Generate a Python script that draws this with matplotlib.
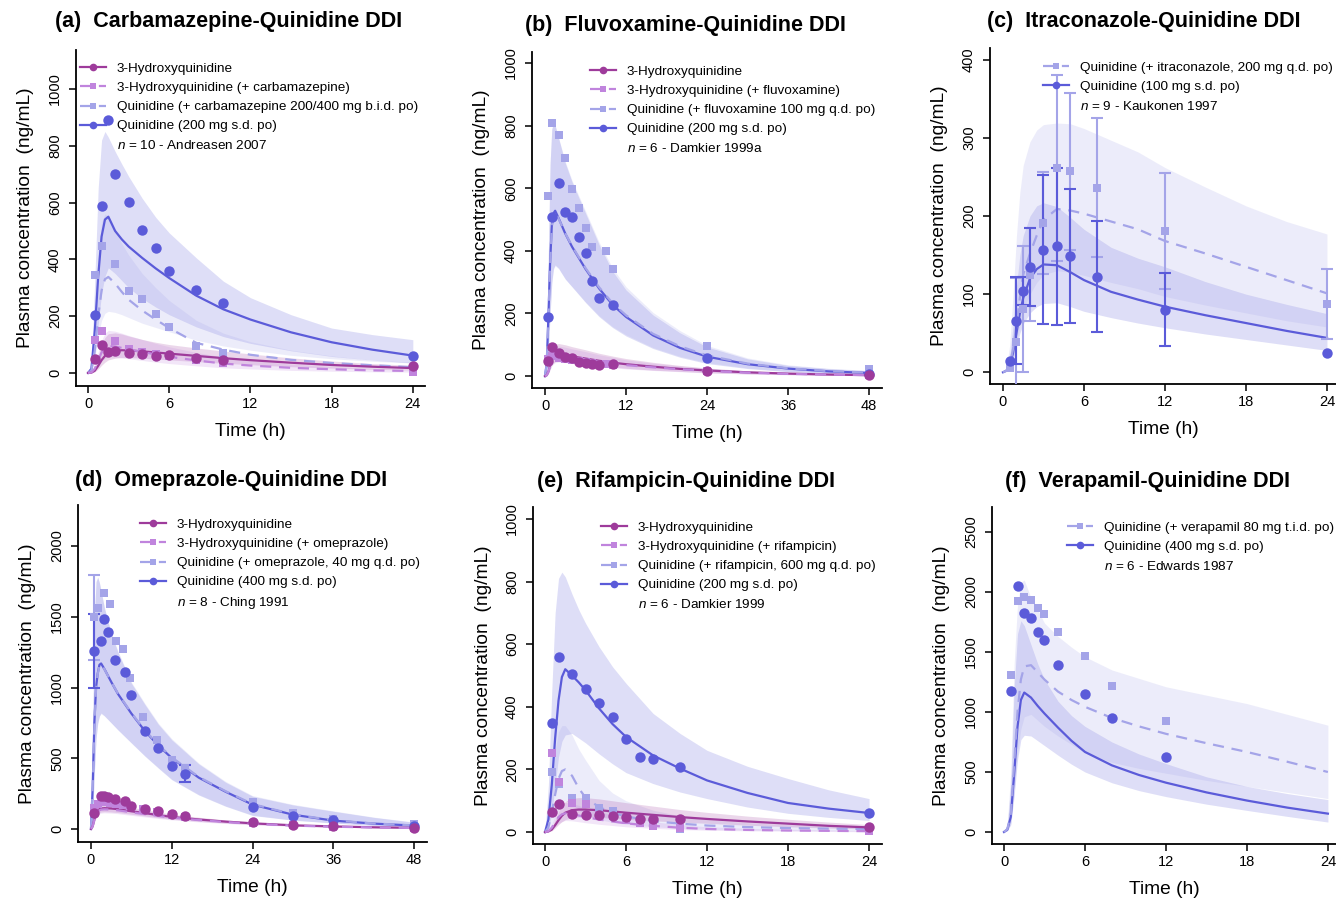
import numpy as np
import matplotlib
matplotlib.use("Agg")
import matplotlib.pyplot as plt
from matplotlib.lines import Line2D

plt.rcParams['font.family'] = ['Liberation Sans', 'DejaVu Sans']
plt.rcParams['mathtext.fontset'] = 'custom'
plt.rcParams['mathtext.it'] = 'Liberation Sans:italic'
plt.rcParams['mathtext.rm'] = 'Liberation Sans'

# ---- simulation time grids (h)
t24 = [0, 0.25, 0.5, 0.75, 1, 1.25, 1.5, 2, 2.5, 3, 4, 5, 6, 8, 10, 12, 15, 18, 21, 24]
t48 = [0, 0.25, 0.5, 0.75, 1, 1.25, 1.5, 2, 3, 4, 6, 8, 10, 12, 16, 20, 24, 30, 36, 42, 48]

# ---- (a) carbamazepine
a_q_med = [0, 15, 150, 340, 480, 540, 550, 500, 470, 445, 405, 368, 334, 272, 224, 188, 143, 108, 82, 61]
a_q_lo = [0, 5, 60, 170, 280, 340, 370, 350, 325, 300, 262, 232, 205, 162, 128, 104, 78, 58, 45, 35]
a_q_hi = [0, 40, 330, 650, 820, 850, 830, 780, 735, 692, 615, 548, 493, 405, 323, 265, 205, 158, 135, 117]
a_qx_med = [0, 8, 80, 200, 290, 330, 338, 315, 285, 258, 220, 188, 158, 106, 82, 64, 46, 35, 27, 20]
a_qx_lo = [0, 3, 50, 130, 185, 210, 217, 213, 205, 195, 175, 160, 145, 115, 95, 80, 62, 50, 41, 35]
a_qx_hi = [0, 20, 200, 420, 530, 560, 550, 500, 455, 415, 350, 300, 255, 185, 140, 110, 80, 60, 45, 38]
a_m_med = [0, 1, 8, 25, 45, 60, 70, 78, 80, 79, 76, 72, 68, 60, 52, 45, 36, 28, 22, 17]
a_m_lo = [0, 0, 4, 14, 27, 38, 46, 52, 54, 54, 52, 49, 46, 40, 34, 29, 22, 17, 13, 10]
a_m_hi = [0, 3, 20, 60, 100, 125, 138, 141, 137, 130, 118, 108, 100, 88, 77, 67, 53, 42, 33, 27]
a_mx_med = [0, 2, 15, 45, 72, 88, 95, 93, 88, 83, 74, 65, 57, 44, 33, 26, 18, 13, 9, 7]
a_mx_lo = [0, 1, 8, 25, 42, 52, 57, 56, 53, 50, 44, 38, 33, 25, 18, 14, 9, 6, 4, 3]
a_mx_hi = [0, 4, 28, 75, 115, 140, 150, 147, 140, 132, 118, 104, 92, 72, 56, 44, 31, 22, 16, 12]
a_obs_t = [0.5, 1, 1.5, 2, 3, 4, 5, 6, 8, 10, 24]
a_q_obs = [205, 588, 890, 700, 602, 502, 440, 359, 291, 246, 59]
a_m_obs = [49, 100, 73, 76, 70, 68, 61, 64, 53, 47, 23]
a_x_obs_t = [0.5, 1, 2, 3, 4, 5, 6, 8, 10, 24]
a_qx_obs = [346, 446, 385, 288, 262, 207, 163, 96, 70, 8]
a_mx_obs = [115, 146, 112, 86, 75, 65, 58, 45, 35, 5]

# ---- (b) fluvoxamine
b_q_med = [0, 40, 190, 360, 480, 520, 528, 505, 455, 413, 342, 280, 228, 189, 130, 90, 62, 38, 24, 15, 10]
b_q_lo = [0, 15, 90, 200, 300, 345, 355, 345, 310, 285, 235, 190, 155, 128, 88, 60, 40, 24, 14, 9, 6]
b_q_hi = [0, 90, 400, 680, 790, 810, 800, 760, 680, 620, 520, 420, 335, 275, 195, 138, 93, 55, 34, 24, 17]
b_qx_med = [0, 38, 185, 355, 475, 515, 525, 503, 456, 415, 345, 284, 233, 194, 135, 95, 66, 40, 25, 16, 11]
b_qx_lo = [0, 14, 85, 195, 295, 340, 352, 343, 310, 286, 237, 193, 158, 132, 91, 63, 43, 26, 15, 10, 7]
b_qx_hi = [0, 85, 395, 675, 785, 808, 800, 762, 685, 625, 527, 428, 345, 285, 203, 145, 98, 58, 36, 25, 18]
b_m_med = [0, 3, 15, 35, 52, 62, 68, 70, 67, 63, 56, 49, 43, 38, 30, 23, 18, 12, 8, 5, 3]
b_m_lo = [0, 1, 8, 22, 35, 42, 46, 48, 46, 43, 38, 33, 29, 25, 19, 15, 11, 7, 5, 3, 2]
b_m_hi = [0, 6, 28, 60, 82, 95, 102, 104, 100, 94, 84, 73, 64, 56, 44, 34, 26, 17, 11, 7, 5]
b_mx_med = [0, 3, 14, 32, 48, 57, 62, 64, 62, 58, 52, 46, 40, 35, 28, 22, 17, 11, 7, 5, 3]
b_mx_lo = [0, 1, 7, 20, 32, 39, 43, 45, 43, 40, 36, 31, 27, 23, 18, 14, 10, 7, 4, 3, 2]
b_mx_hi = [0, 6, 26, 55, 76, 88, 94, 96, 92, 87, 78, 68, 60, 52, 41, 32, 25, 16, 10, 7, 5]
b_q_obs_t = [0.5, 1, 2, 3, 4, 5, 6, 7, 8, 10, 24, 48]
b_q_obs = [189, 509, 616, 523, 508, 443, 392, 304, 248, 228, 59, 7]
b_m_obs = [47, 93, 74, 60, 57, 45, 42, 40, 37, 38, 17, 3]
b_x_obs_t = [0.5, 1, 2, 3, 4, 5, 6, 7, 9, 10, 24, 48]
b_qx_obs = [576, 809, 771, 697, 598, 538, 473, 413, 399, 342, 95, 23]
b_mx_obs = [55, 65, 58, 55, 52, 48, 45, 42, 38, 35, 15, 2]

# ---- (c) itraconazole
c_q_med = [0, 2, 8, 25, 50, 75, 95, 120, 132, 138, 137, 128, 118, 103, 93, 84, 73, 63, 53, 44]
c_q_lo = [0, 1, 4, 15, 33, 50, 62, 76, 84, 88, 89, 84, 78, 70, 63, 57, 49, 42, 35, 28]
c_q_hi = [0, 4, 20, 60, 110, 150, 175, 200, 213, 217, 212, 198, 183, 160, 146, 135, 116, 100, 87, 75]
c_qx_med = [0, 2, 10, 30, 60, 95, 125, 152, 175, 195, 209, 207, 203, 193, 183, 168, 152, 135, 118, 101]
c_qx_lo = [0, 1, 5, 18, 38, 60, 80, 100, 115, 125, 130, 128, 124, 115, 107, 97, 86, 76, 66, 58]
c_qx_hi = [0, 5, 35, 100, 175, 230, 265, 295, 310, 317, 319, 318, 312, 297, 282, 262, 237, 213, 193, 177]
c_obs_t = [0.5, 1, 1.5, 2, 3, 4, 5, 7, 12, 24]
c_q_obs = [14, 66, 104, 135, 157, 161, 149, 122, 80, 25]
c_q_sd = [0, 56, 18, 50, 95, 100, 86, 71, 47, 0]
c_qx_obs = [6, 39, 81, 125, 191, 261, 257, 236, 181, 87]
c_qx_sd = [0, 82, 81, 60, 65, 119, 100, 89, 74, 45]

# ---- (d) omeprazole
d_q_med = [0, 300, 750, 1000, 1100, 1160, 1170, 1130, 1040, 955, 816, 693, 590, 501, 363, 263, 172, 101, 59, 38, 24]
d_q_lo = [0, 100, 400, 640, 750, 800, 820, 800, 750, 700, 607, 515, 430, 348, 240, 160, 95, 62, 42, 25, 14]
d_q_hi = [0, 700, 1500, 1750, 1780, 1740, 1680, 1560, 1380, 1250, 1030, 880, 740, 630, 460, 330, 231, 170, 125, 82, 47]
d_qx_med = [0, 290, 740, 990, 1095, 1155, 1165, 1128, 1040, 958, 820, 698, 596, 506, 368, 267, 176, 104, 61, 39, 25]
d_qx_lo = [0, 95, 395, 635, 745, 795, 815, 798, 750, 702, 610, 518, 434, 352, 244, 163, 98, 64, 43, 26, 15]
d_qx_hi = [0, 690, 1490, 1745, 1778, 1742, 1685, 1565, 1388, 1258, 1038, 888, 748, 638, 466, 336, 236, 174, 128, 84, 49]
d_m_med = [0, 20, 70, 110, 130, 140, 145, 147, 145, 140, 125, 112, 98, 85, 67, 52, 40, 26, 18, 12, 8]
d_m_lo = [0, 12, 50, 85, 105, 115, 120, 122, 120, 116, 104, 92, 80, 69, 54, 42, 32, 21, 14, 9, 6]
d_m_hi = [0, 30, 95, 140, 160, 170, 175, 177, 175, 170, 153, 137, 120, 105, 83, 64, 49, 32, 22, 15, 10]
d_mx_med = [0, 18, 65, 102, 122, 132, 137, 139, 137, 132, 118, 105, 92, 80, 63, 49, 37, 24, 16, 11, 7]
d_mx_lo = [0, 10, 45, 78, 97, 107, 112, 114, 112, 108, 96, 85, 74, 64, 50, 39, 29, 19, 13, 8, 5]
d_mx_hi = [0, 28, 90, 132, 152, 162, 166, 168, 166, 161, 145, 129, 113, 99, 78, 60, 46, 30, 20, 14, 9]
d_q_obs_t = [0.5, 1.5, 2, 2.5, 3.5, 5, 6, 8, 10, 12, 14, 24, 30, 36, 48]
d_q_obs = [1259, 1329, 1485, 1395, 1195, 1113, 946, 694, 572, 447, 391, 153, 94, 66, 24]
d_q_sd = [260, 0, 0, 0, 0, 0, 0, 0, 0, 0, 62, 0, 0, 0, 0]
d_m_obs = [113, 231, 231, 226, 212, 195, 165, 141, 129, 108, 89, 47, 31, 19, 7]
d_x_obs_t = [0.5, 1, 2, 2.75, 3.75, 4.75, 5.75, 7.75, 9.75, 12, 14, 24, 30, 36, 48]
d_qx_obs = [1496, 1565, 1668, 1593, 1329, 1275, 1064, 795, 631, 485, 431, 188, 113, 71, 35]
d_qx_sd = [300, 0, 0, 0, 0, 0, 0, 0, 0, 0, 0, 0, 0, 0, 0]
d_mx_obs = [150, 180, 190, 185, 180, 170, 160, 140, 120, 100, 85, 40, 25, 15, 5]

# ---- (e) rifampicin
e_q_med = [0, 40, 150, 300, 420, 495, 520, 500, 478, 453, 395, 345, 304, 245, 203, 165, 125, 93, 75, 61]
e_q_lo = [0, 10, 60, 150, 240, 290, 310, 315, 300, 285, 250, 218, 190, 155, 128, 107, 80, 60, 47, 37]
e_q_hi = [0, 150, 450, 700, 810, 830, 815, 760, 710, 667, 592, 528, 475, 379, 315, 261, 210, 171, 135, 107]
e_qx_med = [0, 15, 60, 120, 170, 195, 200, 180, 140, 110, 80, 62, 50, 35, 27, 21, 16, 13, 11, 10]
e_qx_lo = [0, 5, 20, 45, 70, 90, 100, 90, 70, 55, 40, 31, 25, 17, 12, 9, 6, 5, 4, 3]
e_qx_hi = [0, 40, 150, 260, 320, 340, 340, 310, 265, 230, 165, 125, 100, 70, 52, 40, 30, 24, 19, 15]
e_m_med = [0, 2, 8, 22, 38, 52, 62, 70, 72, 72, 70, 66, 62, 55, 48, 42, 34, 27, 20, 15]
e_m_lo = [0, 1, 4, 13, 24, 33, 40, 46, 48, 48, 47, 44, 41, 36, 32, 28, 22, 17, 13, 10]
e_m_hi = [0, 4, 16, 40, 65, 85, 98, 108, 110, 110, 106, 100, 94, 83, 72, 63, 51, 41, 32, 24]
e_mx_med = [0, 3, 14, 32, 48, 57, 60, 58, 53, 48, 40, 34, 28, 20, 14, 10, 7, 5, 4, 3]
e_mx_lo = [0, 1, 7, 18, 28, 34, 37, 36, 33, 30, 25, 21, 17, 12, 8, 6, 4, 3, 2, 1]
e_mx_hi = [0, 6, 24, 52, 76, 90, 95, 92, 85, 77, 64, 55, 46, 33, 24, 17, 12, 9, 7, 5]
e_obs_t = [0.5, 1, 2, 3, 4, 5, 6, 7, 8, 10, 24]
e_q_obs = [347, 559, 505, 458, 411, 366, 296, 240, 233, 208, 62]
e_qx_obs = [191, 155, 110, 110, 78, 66, 43, 35, 21, 11, 3]
e_m_obs = [64, 89, 59, 53, 53, 51, 48, 43, 43, 41, 16]
e_mx_obs = [252, 160, 93, 91, 55, 50, 40, 30, 20, 12, 3]

# ---- (f) verapamil
f_q_med = [0, 20, 125, 480, 876, 1100, 1162, 1120, 1050, 987, 870, 760, 667, 555, 475, 411, 330, 262, 203, 153]
f_q_lo = [0, 10, 60, 300, 600, 770, 806, 800, 760, 720, 640, 565, 500, 410, 345, 295, 232, 180, 130, 83]
f_q_hi = [0, 60, 400, 1200, 1650, 1760, 1720, 1560, 1400, 1270, 1090, 970, 880, 750, 650, 570, 460, 380, 320, 270]
f_qx_med = [0, 25, 150, 560, 1000, 1270, 1380, 1390, 1330, 1270, 1170, 1100, 1043, 950, 880, 818, 740, 667, 585, 500]
f_qx_lo = [0, 10, 70, 330, 650, 860, 960, 980, 930, 880, 800, 730, 660, 580, 530, 490, 430, 380, 330, 278]
f_qx_hi = [0, 80, 500, 1400, 1900, 2080, 2100, 1950, 1850, 1740, 1630, 1540, 1460, 1350, 1280, 1210, 1140, 1070, 980, 890]
f_obs_t = [0.5, 1, 1.5, 2, 2.5, 3, 4, 6, 8, 12]
f_q_obs = [1176, 2049, 1821, 1780, 1668, 1596, 1388, 1154, 948, 626]
f_qx_obs = [1307, 1927, 1960, 1933, 1869, 1816, 1668, 1466, 1215, 926]

# ---- styling
C_M = '#9E3B9B'
C_MX = '#C084DD'
C_QX = '#A4A4E8'
C_Q = '#5B5BD9'
DASH = (0, (5, 3.5))
STY = {
    'm': dict(color=C_M, ls='-', marker='o'),
    'mx': dict(color=C_MX, ls=DASH, marker='s'),
    'qx': dict(color=C_QX, ls=DASH, marker='s'),
    'q': dict(color=C_Q, ls='-', marker='o'),
}

W, H = 1336, 898
fig = plt.figure(figsize=(W / 100, H / 100), dpi=100)


def add_ax(box, xlim, ylim, xt, yt):
    l, t, r, b = box
    ax = fig.add_axes([l / W, 1 - b / H, (r - l) / W, (b - t) / H])
    ax.set_xlim(xlim)
    ax.set_ylim(ylim)
    for s in ('top', 'right'):
        ax.spines[s].set_visible(False)
    for s in ('left', 'bottom'):
        ax.spines[s].set_linewidth(1.3)
    ax.set_xticks(xt)
    ax.set_yticks(yt, [str(v) for v in yt], rotation=90, va='center')
    ax.tick_params(direction='out', length=5, width=1.1, labelsize=10.5)
    ax.tick_params(axis='x', pad=3.0)
    ax.tick_params(axis='y', pad=5.0)
    ax.set_xlabel('Time (h)', fontsize=13.8, va='center')
    ax.set_ylabel('Plasma concentration  (ng/mL)', fontsize=13.8, va='center')
    ax.xaxis.set_label_coords(0.5, -46 / (b - t))
    ax.yaxis.set_label_coords(-50 / (r - l), 0.5)
    return ax


def sim(ax, t, key, med, lo, hi):
    s = STY[key]
    ax.fill_between(t, lo, hi, color=s['color'], alpha=0.2, lw=0, zorder=1)
    ax.plot(t, med, color=s['color'], ls=s['ls'], lw=1.6, zorder=2)


def obs(ax, t, c, key, sd=None):
    s = STY[key]
    if sd is not None:
        t_, c_, sd_ = np.array(t), np.array(c), np.array(sd)
        k = sd_ > 0
        ax.errorbar(t_[k], c_[k], yerr=sd_[k], fmt='none', ecolor=s['color'],
                    elinewidth=1.5, capsize=4.5, capthick=1.5, zorder=3)
    circ = s['marker'] == 'o'
    ax.plot(t, c, ls='none', marker=s['marker'], ms=7.5 if circ else 6,
            color=s['color'], mew=0, zorder=5 if circ else 4)


def legend(ax, keys, labels, pos):
    hs = []
    for k in keys:
        s = STY[k]
        hs.append(Line2D([], [], color=s['color'], ls=s['ls'], lw=1.6, marker=s['marker'],
                         ms=5.5 if s['marker'] == 'o' else 5, mew=0))
    hs.append(Line2D([], [], ls='none'))
    ax.legend(hs, labels, loc='upper left', bbox_to_anchor=(pos[0] / W, 1 - pos[1] / H),
              bbox_transform=fig.transFigure, frameon=False, fontsize=9.7,
              handlelength=1.93, handletextpad=0.8, labelspacing=0.5,
              borderpad=0, borderaxespad=0, numpoints=1)


def title(x, y, s):
    fig.text(x / W, 1 - y / H, s, fontsize=15.5, fontweight='bold', ha='left', va='center')


# (a)
ax = add_ax((76, 50, 425, 386), (-0.89, 24.9), (-46, 1137), [0, 6, 12, 18, 24], [0, 200, 400, 600, 800, 1000])
sim(ax, t24, 'q', a_q_med, a_q_lo, a_q_hi)
sim(ax, t24, 'qx', a_qx_med, a_qx_lo, a_qx_hi)
sim(ax, t24, 'm', a_m_med, a_m_lo, a_m_hi)
sim(ax, t24, 'mx', a_mx_med, a_mx_lo, a_mx_hi)
obs(ax, a_x_obs_t, a_qx_obs, 'qx')
obs(ax, a_obs_t, a_q_obs, 'q')
obs(ax, a_x_obs_t, a_mx_obs, 'mx')
obs(ax, a_obs_t, a_m_obs, 'm')
legend(ax, ['m', 'mx', 'qx', 'q'],
       ['3-Hydroxyquinidine', '3-Hydroxyquinidine (+ carbamazepine)',
        'Quinidine (+ carbamazepine 200/400 mg b.i.d. po)', 'Quinidine (200 mg s.d. po)',
        '$n$ = 10 - Andreasen 2007'], (80, 62.5))
title(55, 22, '(a)  Carbamazepine-Quinidine DDI')

# (b)
ax = add_ax((532, 52, 882, 388), (-1.93, 49.9), (-38, 1035), [0, 12, 24, 36, 48], [0, 200, 400, 600, 800, 1000])
sim(ax, t48, 'q', b_q_med, b_q_lo, b_q_hi)
sim(ax, t48, 'qx', b_qx_med, b_qx_lo, b_qx_hi)
sim(ax, t48, 'm', b_m_med, b_m_lo, b_m_hi)
sim(ax, t48, 'mx', b_mx_med, b_mx_lo, b_mx_hi)
obs(ax, b_x_obs_t, b_qx_obs, 'qx')
obs(ax, b_q_obs_t, b_q_obs, 'q')
obs(ax, b_x_obs_t, b_mx_obs, 'mx')
obs(ax, b_q_obs_t, b_m_obs, 'm')
legend(ax, ['m', 'mx', 'qx', 'q'],
       ['3-Hydroxyquinidine', '3-Hydroxyquinidine (+ fluvoxamine)',
        'Quinidine (+ fluvoxamine 100 mg q.d. po)', 'Quinidine (200 mg s.d. po)',
        '$n$ = 6 - Damkier 1999a'], (590, 65.5))
title(525, 25, '(b)  Fluvoxamine-Quinidine DDI')

# (c)
ax = add_ax((990, 48, 1336, 384), (-0.96, 24.67), (-15, 415), [0, 6, 12, 18, 24], [0, 100, 200, 300, 400])
sim(ax, t24, 'q', c_q_med, c_q_lo, c_q_hi)
sim(ax, t24, 'qx', c_qx_med, c_qx_lo, c_qx_hi)
obs(ax, c_obs_t, c_qx_obs, 'qx', c_qx_sd)
obs(ax, c_obs_t, c_q_obs, 'q', c_q_sd)
legend(ax, ['qx', 'q'],
       ['Quinidine (+ itraconazole, 200 mg q.d. po)', 'Quinidine (100 mg s.d. po)',
        '$n$ = 9 - Kaukonen 1997'], (1043, 61.5))
title(987, 22, '(c)  Itraconazole-Quinidine DDI')

# (d)
ax = add_ax((78, 505, 427, 842), (-1.93, 49.9), (-92, 2290), [0, 12, 24, 36, 48], [0, 500, 1000, 1500, 2000])
sim(ax, t48, 'q', d_q_med, d_q_lo, d_q_hi)
sim(ax, t48, 'qx', d_qx_med, d_qx_lo, d_qx_hi)
sim(ax, t48, 'm', d_m_med, d_m_lo, d_m_hi)
sim(ax, t48, 'mx', d_mx_med, d_mx_lo, d_mx_hi)
obs(ax, d_x_obs_t, d_qx_obs, 'qx', d_qx_sd)
obs(ax, d_q_obs_t, d_q_obs, 'q', d_q_sd)
obs(ax, d_x_obs_t, d_mx_obs, 'mx')
obs(ax, d_q_obs_t, d_m_obs, 'm')
legend(ax, ['m', 'mx', 'qx', 'q'],
       ['3-Hydroxyquinidine', '3-Hydroxyquinidine (+ omeprazole)',
        'Quinidine (+ omeprazole, 40 mg q.d. po)', 'Quinidine (400 mg s.d. po)',
        '$n$ = 8 - Ching 1991'], (140, 518.5))
title(75, 480, '(d)  Omeprazole-Quinidine DDI')

# (e)
ax = add_ax((533, 507, 882, 844), (-0.89, 24.96), (-38, 1038), [0, 6, 12, 18, 24], [0, 200, 400, 600, 800, 1000])
sim(ax, t24, 'q', e_q_med, e_q_lo, e_q_hi)
sim(ax, t24, 'qx', e_qx_med, e_qx_lo, e_qx_hi)
sim(ax, t24, 'm', e_m_med, e_m_lo, e_m_hi)
sim(ax, t24, 'mx', e_mx_med, e_mx_lo, e_mx_hi)
obs(ax, e_obs_t, e_qx_obs, 'qx')
obs(ax, e_obs_t, e_q_obs, 'q')
obs(ax, e_obs_t, e_mx_obs, 'mx')
obs(ax, e_obs_t, e_m_obs, 'm')
legend(ax, ['m', 'mx', 'qx', 'q'],
       ['3-Hydroxyquinidine', '3-Hydroxyquinidine (+ rifampicin)',
        'Quinidine (+ rifampicin, 600 mg q.d. po)', 'Quinidine (200 mg s.d. po)',
        '$n$ = 6 - Damkier 1999'], (601, 521.5))
title(537, 482, '(e)  Rifampicin-Quinidine DDI')

# (f)
ax = add_ax((992, 507, 1336, 844), (-0.89, 24.6), (-100, 2708), [0, 6, 12, 18, 24], [0, 500, 1000, 1500, 2000, 2500])
sim(ax, t24, 'q', f_q_med, f_q_lo, f_q_hi)
sim(ax, t24, 'qx', f_qx_med, f_qx_lo, f_qx_hi)
obs(ax, f_obs_t, f_qx_obs, 'qx')
obs(ax, f_obs_t, f_q_obs, 'q')
legend(ax, ['qx', 'q'],
       ['Quinidine (+ verapamil 80 mg t.i.d. po)', 'Quinidine (400 mg s.d. po)',
        '$n$ = 6 - Edwards 1987'], (1067, 521.5))
title(1005, 482, '(f)  Verapamil-Quinidine DDI')

fig.savefig('out.png', dpi=100)
